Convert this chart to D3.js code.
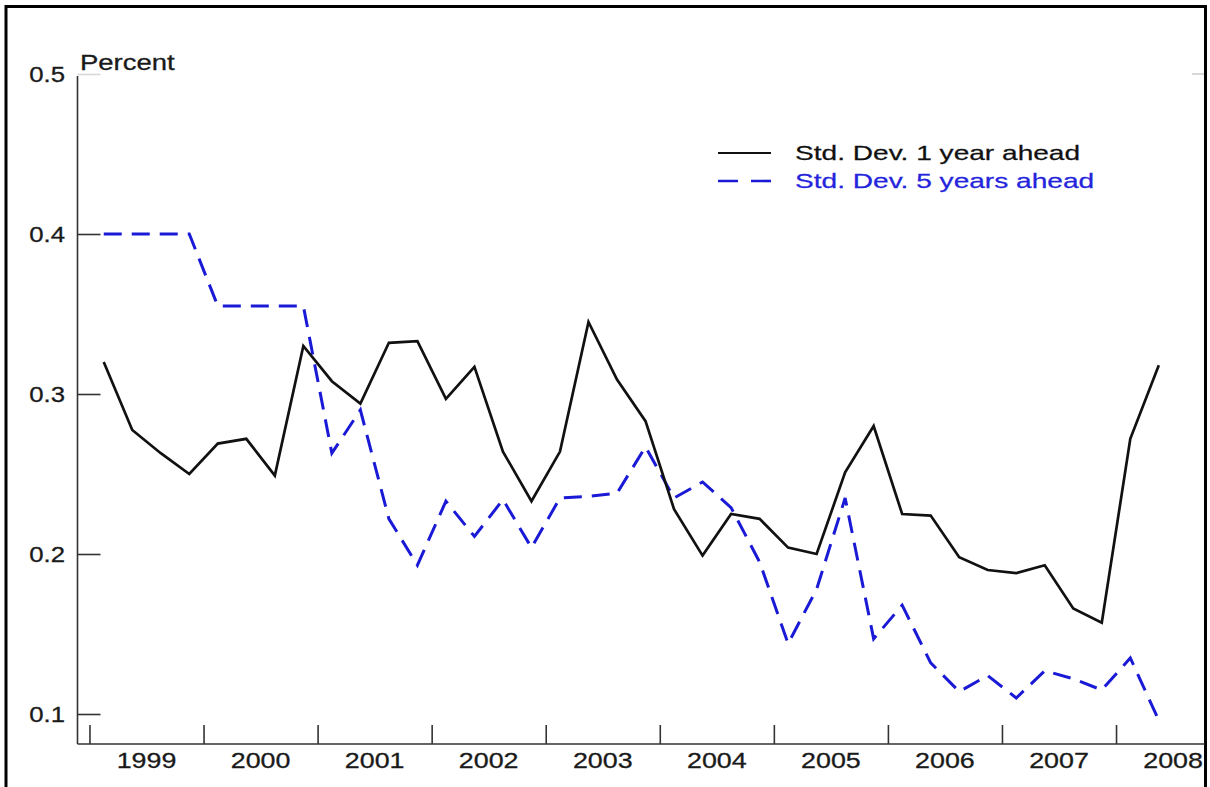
<!DOCTYPE html>
<html>
<head>
<meta charset="utf-8">
<script src="https://cdn.jsdelivr.net/npm/d3@7"></script>
<style>
  html, body { margin: 0; padding: 0; background: #fff; }
  svg { display: block; }
  text { font-family: "Liberation Sans", Arial, sans-serif; }
</style>
</head>
<body>
<svg id="chart" width="1210" height="787"></svg>
<script>
// ---- data (quarterly, 1999Q1 .. 2008Q2) ----
const startYear = 1999;
const sd1Year = [0.320, 0.2775, 0.263, 0.250, 0.269, 0.272, 0.249, 0.330,
                 0.308, 0.294, 0.332, 0.333, 0.297, 0.317, 0.264, 0.233,
                 0.264, 0.345, 0.309, 0.283, 0.228, 0.199, 0.225, 0.222,
                 0.204, 0.200, 0.251, 0.280, 0.225, 0.224, 0.198, 0.190,
                 0.188, 0.193, 0.166, 0.157, 0.272, 0.318];
const sd5Year = [0.400, 0.400, 0.400, 0.400, 0.355, 0.355, 0.355, 0.355,
                 0.263, 0.290, 0.222, 0.193, 0.233, 0.211, 0.234, 0.204,
                 0.235, 0.236, 0.238, 0.267, 0.235, 0.245, 0.229, 0.195,
                 0.144, 0.178, 0.235, 0.147, 0.168, 0.132, 0.114, 0.124,
                 0.110, 0.127, 0.122, 0.115, 0.135, 0.096];
const yearTicks = d3.range(1999, 2009);
const yTicks = [0.1, 0.2, 0.3, 0.4, 0.5];
const seriesNames = ["Std. Dev. 1 year ahead", "Std. Dev. 5 years ahead"];
const seriesColors = ["#111111", "#1a1ad6"];

// ---- layout ----
const svg = d3.select("#chart");
const x = d3.scaleLinear().domain([1998.895, 2008.78]).range([77.5, 1205]);
const y = d3.scaleLinear().domain([0.08125, 0.5]).range([744, 74]);
const qx = i => x(startYear + (i + 0.5) / 4);

// frame
svg.append("rect").attr("x", 6).attr("y", 6.5).attr("width", 1199.5).attr("height", 820)
  .attr("fill", "none").attr("stroke", "#000").attr("stroke-width", 3);

// y axis
const yAxis = d3.axisRight(y).tickValues(yTicks).tickSize(23).tickFormat("");
const gy = svg.append("g").attr("transform", "translate(77.5,0)").call(yAxis);
gy.select(".domain").attr("d", `M0,${y(0.5)+2}V744`).attr("stroke", "#333").attr("stroke-width", 1.6);
gy.selectAll(".tick line").attr("stroke", d => d === 0.5 ? "#d8d8d8" : "#333").attr("stroke-width", 1.6);
// y labels
svg.append("g").selectAll("g").data(yTicks).join("g")
  .attr("transform", d => `translate(65,${y(d) + 8}) scale(1.17,1)`)
  .append("text").attr("text-anchor", "end").attr("font-size", 22).attr("fill", "#1a1a1a")
  .attr("stroke", "#1a1a1a").attr("stroke-width", 0.3)
  .text(d => d3.format(".1f")(d));
// right faint tick at 0.5
svg.append("line").attr("x1", 1192).attr("x2", 1204).attr("y1", y(0.5)).attr("y2", y(0.5))
  .attr("stroke", "#d8d8d8").attr("stroke-width", 2);

// Percent label
svg.append("g").attr("transform", "translate(80,70) scale(1.25,1)")
  .append("text").attr("font-size", 22).attr("fill", "#1a1a1a")
  .attr("stroke", "#1a1a1a").attr("stroke-width", 0.3).text("Percent");

// x axis
const xAxis = d3.axisTop(x).tickValues(yearTicks).tickSize(19).tickFormat("");
const gx = svg.append("g").attr("transform", "translate(0,744)").call(xAxis);
gx.select(".domain").attr("d", "M77.5,0H1205").attr("stroke", "#333").attr("stroke-width", 1.6);
gx.selectAll(".tick line").attr("stroke", "#333").attr("stroke-width", 1.6);
svg.append("g").selectAll("g").data(yearTicks).join("g")
  .attr("transform", d => `translate(${x(d + 0.5)},768) scale(1.22,1)`)
  .append("text").attr("text-anchor", "middle").attr("font-size", 22).attr("fill", "#1a1a1a")
  .attr("stroke", "#1a1a1a").attr("stroke-width", 0.3)
  .text(d => d);

// lines
const line = vals => d3.line().x((d, i) => qx(i)).y(d => y(d))(vals);
svg.append("path").attr("d", line(sd5Year)).attr("fill", "none")
  .attr("stroke", seriesColors[1]).attr("stroke-width", 3).attr("stroke-dasharray", "18,10");
svg.append("path").attr("d", line(sd1Year)).attr("fill", "none")
  .attr("stroke", seriesColors[0]).attr("stroke-width", 2.7).attr("stroke-linejoin", "miter");

// legend
const leg = svg.append("g");
[0, 1].forEach(k => {
  const ly = 153 + k * 28;
  leg.append("line").attr("x1", 718).attr("x2", 771).attr("y1", ly).attr("y2", ly)
    .attr("stroke", seriesColors[k]).attr("stroke-width", k ? 2.6 : 2.2)
    .attr("stroke-dasharray", k ? "20,13" : null);
  leg.append("g").attr("transform", `translate(795,${ly + 7}) scale(1.37,1)`)
    .append("text").attr("font-size", 20.5).attr("fill", k ? "#2424dc" : "#111")
    .attr("stroke", k ? "#2424dc" : "#111").attr("stroke-width", 0.25)
    .text(seriesNames[k]);
});
</script>
</body>
</html>
